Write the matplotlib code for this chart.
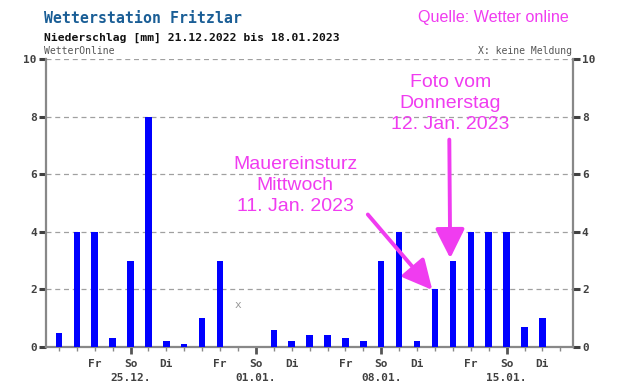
import matplotlib.pyplot as plt
import numpy as np
import pandas as pd

# Niederschlag per day, 21.12.2022 .. 18.01.2023 (mm)
start = "2022-12-21"
precip = [0.5, 4, 4, 0.3, 3, 8, 0.2, 0.1, 1, 3,
          0.0, 0.0, 0.6, 0.2, 0.4, 0.4, 0.3, 0.2, 3, 4,
          0.2, 2, 3, 4, 4, 4, 0.7, 1, 0.0]
missing = [10]          # day index with "X: keine Meldung"
shown_days = ["Fr", "So", "Di"]
weekday_de = ["Mo", "Di", "Mi", "Do", "Fr", "Sa", "So"]

dates = pd.date_range(start, periods=len(precip), freq="D")
x = np.arange(len(precip))

magenta = "#f03cf0"
mono = "DejaVu Sans Mono"

fig = plt.figure(figsize=(6.2, 3.88), dpi=100)
ax = fig.add_axes([0.0742, 0.1057, 0.924 - 0.0742, 0.848 - 0.1057])

ax.bar(x, precip, width=0.36, color="#0000ff", zorder=3)
for d in missing:
    ax.text(d, 1.45, "x", ha="center", va="center", color="#999999",
            fontsize=8, family=mono)

ax.set_xlim(-0.72, 28.7)
ax.set_ylim(0, 10)

# y axis on both sides
ax.set_yticks([0, 2, 4, 6, 8, 10])
ax.tick_params(axis="y", which="both", left=True, right=True,
               labelleft=True, labelright=True, length=5, width=2.2,
               color="#404040", pad=1.5, labelsize=8, labelcolor="#404040")
for lab in ax.get_yticklabels(which="both"):
    lab.set_fontfamily(mono)
    lab.set_fontweight("bold")
ax.grid(axis="y", linestyle=(0, (4, 3)), color="#a0a0a0", linewidth=0.9, zorder=1)

# x axis: Sundays as major ticks with date, other days minor
sundays = [i for i, dt in enumerate(dates) if dt.weekday() == 6]
others = [i for i, dt in enumerate(dates) if dt.weekday() != 6]
ax.set_xticks(sundays, ["So\n" + dates[i].strftime("%d.%m.") for i in sundays])
ax.set_xticks(others, [weekday_de[dates[i].weekday()]
                       if weekday_de[dates[i].weekday()] in shown_days else ""
                       for i in others], minor=True)
ax.tick_params(axis="x", which="major", length=5, width=2, color="#555555",
               pad=4, labelsize=8, labelcolor="#404040")
ax.tick_params(axis="x", which="minor", length=3, width=1, color="#888888",
               pad=6, labelsize=8, labelcolor="#404040")
for lab in ax.get_xticklabels(which="both"):
    lab.set_fontfamily(mono)
    lab.set_fontweight("bold")
    lab.set_linespacing(1.45)

for side in ["left", "right", "bottom"]:
    ax.spines[side].set_color("#888888")
    ax.spines[side].set_linewidth(1.6)
ax.spines["top"].set_visible(False)

# header texts
fig.text(0.071, 0.953, "Wetterstation Fritzlar", color="#1a5e96",
         family=mono, fontweight="bold", fontsize=10.7, va="center")
fig.text(0.071, 0.902, "Niederschlag [mm] 21.12.2022 bis 18.01.2023",
         color="#111111", family=mono, fontweight="bold", fontsize=8.2, va="center")
fig.text(0.071, 0.868, "WetterOnline", color="#555555", family=mono,
         fontsize=7, va="center")
fig.text(0.923, 0.868, "X: keine Meldung", color="#555555", family=mono,
         fontsize=7, va="center", ha="right")
fig.text(0.795, 0.954, "Quelle: Wetter online", color=magenta,
         family="Liberation Sans", fontsize=11.6, ha="center", va="center")

# annotations
ax.text(13.2, 5.62, "Mauereinsturz\nMittwoch\n11. Jan. 2023", color=magenta,
        family="Liberation Sans", fontsize=14, ha="center", va="center",
        linespacing=1.3)
ax.text(21.85, 8.45, "Foto vom\nDonnerstag\n12. Jan. 2023", color=magenta,
        family="Liberation Sans", fontsize=14, ha="center", va="center",
        linespacing=1.3)
arrow = dict(arrowstyle="-|>,head_length=1.0,head_width=0.5",
             mutation_scale=18, color=magenta, lw=2.8,
             shrinkA=0, shrinkB=0)
ax.annotate("", xy=(20.85, 1.98), xytext=(17.25, 4.6), arrowprops=arrow)
ax.annotate("", xy=(21.85, 3.08), xytext=(21.8, 7.2), arrowprops=arrow)

fig.savefig("out.png", dpi=100)
